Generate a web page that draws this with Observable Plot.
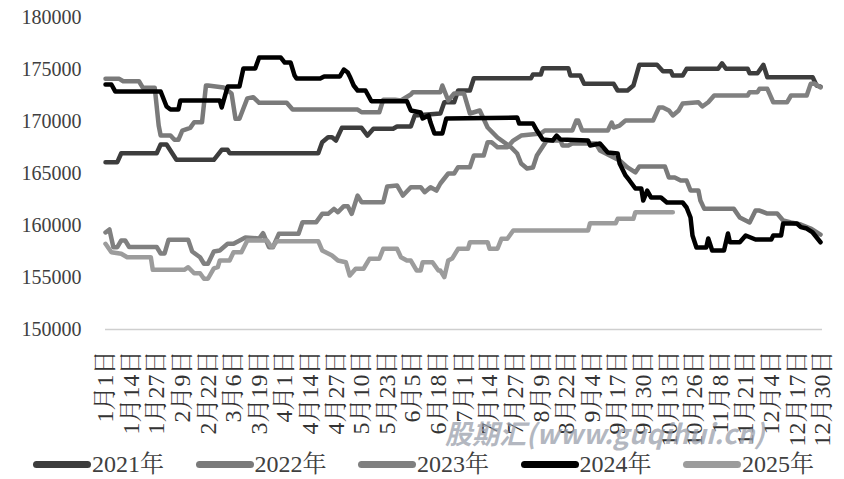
<!DOCTYPE html>
<html><head><meta charset="utf-8">
<script src="https://cdn.jsdelivr.net/npm/d3@7"></script>
<script src="https://cdn.jsdelivr.net/npm/@observablehq/plot@0.6"></script>
<style>
body{margin:0;background:#fff;}
#wrap{position:relative;width:844px;height:479px;overflow:hidden;font-family:"Liberation Serif","Noto Serif CJK SC","Noto Sans CJK SC",serif;}
#chart svg{display:block;}
#chart svg text{font-family:"Liberation Serif","Noto Serif CJK SC","Noto Sans CJK SC",serif;}
.leg{position:absolute;top:452px;height:24px;display:flex;align-items:center;font-size:24px;line-height:24px;color:#404040;white-space:nowrap;}
.sw{width:58px;height:7px;border-radius:4px;margin-right:1px;}
#wm{position:absolute;left:445px;top:419px;font:italic bold 27px/27px "Noto Sans CJK SC",sans-serif;color:rgba(150,156,168,0.72);white-space:nowrap;}
</style></head><body>
<div id="wrap"><div id="chart"></div><div id="legend"></div><div id="wm">股期汇(www.guqihui.cn)</div></div>
<script>
const seriesNames = ["2021年","2022年","2023年","2024年","2025年"];
const seriesColors = ["#3d3d3d","#7a7a7a","#808080","#000000","#9c9c9c"];
const yTicks = [150000,155000,160000,165000,170000,175000,180000];
const xTickDays = [0,13,26,39,52,65,78,91,104,117,130,143,156,169,182,195,208,221,234,247,260,273,286,299,312,325,338,351,364];
const xTickLabels = ["1月1日","1月14日","1月27日","2月9日","2月22日","3月6日","3月19日","4月1日","4月14日","4月27日","5月10日","5月23日","6月5日","6月18日","7月1日","7月14日","7月27日","8月9日","8月22日","9月4日","9月17日","9月30日","10月13日","10月26日","11月8日","11月21日","12月4日","12月17日","12月30日"];

const days2021 = [0,6,8,26,28,31,36,55,59,62,63,108,110,113,115,117,120,130,133,136,146,148,155,157,170,172,177,179,185,187,216,217,221,222,235,236,241,243,258,260,265,268,271,280,283,287,288,293,295,311,313,315,326,327,331,334,336,359,361,363];
const vals2021 = [166090,166090,166950,166950,167790,167790,166320,166320,167280,167280,166950,166950,168010,168490,168490,168170,169390,169390,168650,169300,169300,169520,169520,170580,170770,171850,171850,172980,172980,174160,174160,174520,174520,175120,175120,174420,174420,173620,173620,172980,172980,173460,175450,175450,174840,174840,174420,174420,175070,175070,175600,175070,175070,174640,174640,175450,174260,174260,173460,173360];

const days2022 = [0,7,9,17,19,25,27,28,33,35,37,39,43,45,49,51,52,60,62,64,66,68,70,72,75,78,92,95,128,130,139,141,147,150,155,156,170,171,174,177,182,185,190,194,199,206,209,211,214,217,219,224,231,232,235,237,249,251,256,261,265,269,271,284,286,289,292,295,297,301,302,304,319,322,327,330,332,336,341,344,348,353,358,363];
const vals2022 = [174100,174100,173870,173870,173240,173240,169610,168650,168650,168240,168240,169130,169390,169930,169930,173460,173460,173270,172980,172690,170260,170260,171250,172220,172340,171800,171800,171150,171150,170890,170890,172090,172090,172020,172600,172820,172820,173460,172020,172690,172690,170770,171060,169420,168460,167500,166920,165960,165480,165580,166730,168170,168170,167690,167690,167880,167880,167210,166730,166250,165580,165100,165670,165670,164610,164610,164330,164330,163360,163360,162400,161600,161600,160770,160290,161440,161440,161150,161150,160480,160290,160100,159710,159130];

const days2023 = [0,2,4,6,8,10,12,26,28,30,32,42,44,48,50,52,55,58,62,65,71,78,80,83,85,88,98,100,107,110,113,116,118,121,123,125,128,130,141,143,148,151,155,160,162,165,168,170,174,177,179,185,187,192,194,196,199,204,207,211,221,223,237,239,240,242,255,257,258,261,264,278,281,283,286,288,291,293,301,303,306,309,326,327,331,332,336,339,346,348,356,358,360,363];
const vals2023 = [159330,159620,157910,157910,158560,158560,157930,157930,157310,157310,158620,158620,157500,156950,156320,156320,157500,157600,158240,158240,158850,158750,159260,157910,157910,159200,159200,160320,160320,161120,161120,161600,161280,161860,161860,161120,162880,162240,162240,163750,163850,162880,163680,163680,163200,163680,163360,164040,165000,165000,165610,165610,166730,166730,168010,168010,167530,167530,168170,168650,168850,169130,169130,170100,170100,169130,169130,169900,169420,169610,170100,170100,171350,171350,171060,170580,171060,171730,171850,171440,171850,172500,172500,172820,172820,173140,173140,171850,171850,172500,172500,173620,173650,173270];

const days2024 = [0,3,5,28,31,33,37,38,58,59,60,62,68,70,76,78,89,91,94,96,97,109,111,119,121,123,124,126,128,132,135,153,155,160,161,164,165,167,171,173,209,210,217,219,222,227,229,231,245,246,251,255,260,261,264,266,269,272,273,275,277,282,285,293,295,297,298,300,305,306,308,314,316,317,322,325,330,338,339,343,344,351,353,356,359,363];
const vals2024 = [173560,173560,172880,172880,171440,171150,171150,172020,172020,171350,172020,173360,173360,175100,175100,176150,176150,175670,175670,174420,174130,174130,174330,174330,175000,174710,174330,173460,172980,172980,171950,171950,171060,170860,170290,170580,169900,168850,168850,170290,170380,169810,169810,169130,168270,168170,168650,168270,168170,167690,167880,167020,166920,165960,164810,164330,163560,163560,162400,163360,162690,162690,162210,162210,161730,160770,159040,157880,157880,158750,157600,157600,159230,158390,158390,159040,158650,158650,159040,159040,160190,160190,159840,159710,159330,158390];

const days2025 = [0,3,8,11,23,24,40,42,45,48,50,52,55,57,58,63,65,69,72,82,84,85,87,108,110,115,118,122,124,127,131,134,139,141,148,150,153,155,158,160,161,166,169,170,172,174,176,179,184,185,194,195,199,201,204,207,245,246,259,260,268,269,288];
const vals2025 = [158240,157430,157280,156950,156950,155740,155740,155990,155410,155410,154880,154880,155870,155990,156630,156630,157430,157430,158560,158560,157980,157980,158490,158490,157600,157120,156630,156470,155190,155840,155840,156800,156800,157760,157760,156950,156630,156630,155670,155670,156470,156470,155670,155670,155030,156630,156820,157760,157760,158390,158390,157760,157760,158720,158720,159520,159520,160220,160220,160640,160640,161280,161280];

const seriesDays = [days2021, days2022, days2023, days2024, days2025];
const seriesVals = [vals2021, vals2022, vals2023, vals2024, vals2025];
const rows = seriesNames.flatMap((name, s) => seriesDays[s].map((d, i) => ({year: name, day: d, value: seriesVals[s][i]})));

const fontStack = "'Liberation Serif','Noto Serif CJK SC','Noto Sans CJK SC',serif";
const chart = Plot.plot({
  width: 844, height: 447,
  marginTop: 17, marginLeft: 105, marginRight: 22, marginBottom: 118,
  style: {fontFamily: fontStack, background: "transparent", color: "#404040"},
  x: {domain: [0, 364], axis: null},
  y: {domain: [150000, 180000], axis: null},
  color: {domain: seriesNames, range: seriesColors},
  marks: [
    Plot.ruleY([150000], {stroke: "#cfcfcf", strokeWidth: 1.5}),
    Plot.axisY({ticks: yTicks, tickSize: 0, tickPadding: 24, fontSize: 20, label: null, tickFormat: d => String(d), fill: "#404040"}),
    Plot.axisX({ticks: xTickDays, tickSize: 0, tickPadding: 21, fontSize: 24, label: null, tickRotate: -90,
      tickFormat: d => xTickLabels[xTickDays.indexOf(d)], fill: "#333"}),
    Plot.line(rows, {x: "day", y: "value", z: "year", stroke: "year", strokeWidth: 4.5, strokeLinejoin: "round", strokeLinecap: "round"})
  ]
});
document.getElementById("chart").appendChild(chart);

const legend = document.getElementById("legend");
seriesNames.forEach((name, i) => {
  const item = document.createElement("div");
  item.className = "leg";
  item.style.left = (33 + i * 162.5) + "px";
  const sw = document.createElement("div");
  sw.className = "sw";
  sw.style.background = seriesColors[i];
  const tx = document.createElement("span");
  tx.textContent = name;
  item.appendChild(sw); item.appendChild(tx);
  legend.appendChild(item);
});
</script>
</body></html>
